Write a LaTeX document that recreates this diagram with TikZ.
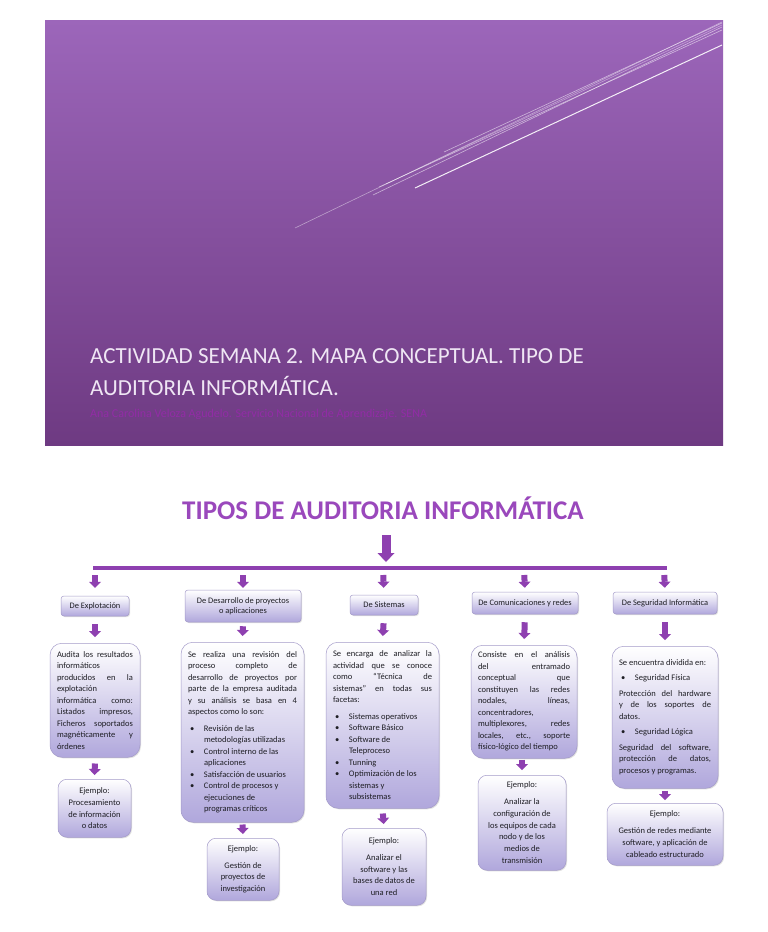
\documentclass[tikz,border=0pt]{standalone}
\usepackage{fontspec}
\setmainfont{Carlito}
\usepackage{tikz}
\usetikzlibrary{positioning,arrows.meta,shadows}
\definecolor{BannerTop}{HTML}{9C66BA}
\definecolor{BannerBottom}{HTML}{6E3A82}
\definecolor{BannerText}{HTML}{EFE6F4}
\definecolor{AuthorPurple}{HTML}{922CA6}
\definecolor{TitlePurple}{HTML}{9A48BC}
\definecolor{ArrowPurple}{HTML}{8E40B0}
\definecolor{BoxBorder}{HTML}{A39AC9}
\definecolor{BoxLavender}{HTML}{B0A7DC}
\definecolor{InkGray}{HTML}{1E1E24}
\hyphenpenalty=10000
\exhyphenpenalty=10000
\newcommand{\bulitem}[1]{\par\hangindent=16pt\hangafter=1\noindent
  \hbox to 16pt{\hskip2pt\textbullet\hfil}#1\par}
\tikzset{
  hdrbox/.style={draw=BoxBorder,top color=white,bottom color=BoxLavender,
    rounded corners=3pt,line width=0.5pt,
    drop shadow={shadow xshift=1pt,shadow yshift=-1pt,opacity=0.25},
    font=\fontsize{8.4}{10}\selectfont,text=InkGray,align=center,inner sep=2pt},
  descbox/.style={draw=BoxBorder,top color=white,bottom color=BoxLavender,
    rounded corners=12pt,line width=0.5pt,anchor=north,
    drop shadow={shadow xshift=1pt,shadow yshift=-1pt,opacity=0.25},
    font=\fontsize{8.5}{11.5}\selectfont,
    text=InkGray,align=justify,inner xsep=7pt,inner ysep=4pt},
  exbox/.style={draw=BoxBorder,top color=white,bottom color=BoxLavender,
    rounded corners=9pt,line width=0.5pt,anchor=north,
    drop shadow={shadow xshift=1pt,shadow yshift=-1pt,opacity=0.25},
    font=\fontsize{8.5}{11.8}\selectfont,text=InkGray,align=center,inner sep=3pt},
  flowarrow/.style={draw=ArrowPurple,line width=6pt,
    -{Triangle[width=12pt,length=6pt,line width=0pt]},shorten <=8pt,shorten >=6pt},
  bigarrow/.style={draw=ArrowPurple,line width=9pt,
    -{Triangle[width=17pt,length=9pt,line width=0pt]}},
  barline/.style={draw=ArrowPurple,line width=4pt},
  streak/.style={draw=white,line width=0.6pt,opacity=0.55},
}

\begin{document}
\begin{tikzpicture}[x=1pt,y=-1pt]
  \useasboundingbox (0,0) rectangle (768,932);
  \fill[white] (0,0) rectangle (768,932);

  % banner
  \fill[top color=BannerTop,bottom color=BannerBottom] (45,20) rectangle (723,445);
  \draw[streak,opacity=0.45] (295,228) -- (722,22);
  \draw[streak] (373,195) -- (722,27);
  \draw[streak] (379,187) -- (722,30);
  \draw[streak,opacity=0.4] (386,184) -- (722,25);
  \draw[streak] (444,152) -- (722,23);
  \draw[streak,line width=1pt,opacity=0.9] (415,188) -- (722,45);
  \node[anchor=base west,font=\fontsize{23}{30}\selectfont,text=BannerText,inner sep=0pt]
    (banner1) at (90,363) {ACTIVIDAD SEMANA 2. MAPA CONCEPTUAL. TIPO DE};
  \node[anchor=base west,font=\fontsize{23}{30}\selectfont,text=BannerText,inner sep=0pt]
    (banner2) at (90,395) {AUDITORIA INFORMÁTICA.};
  \node[anchor=base west,font=\fontsize{12}{14}\selectfont,text=AuthorPurple,inner sep=0pt]
    (author) at (90,417) {Ana Carolina Veloza Agudelo. Servicio Nacional de Aprendizaje. SENA};

  % map title and bar
  \node[anchor=base,font=\fontsize{27}{32}\selectfont\bfseries,text=TitlePurple,inner sep=0pt]
    (title) at (383,519) {TIPOS DE AUDITORIA INFORMÁTICA};
  \coordinate (b1) at (95,568);
  \coordinate (b2) at (243,568);
  \coordinate (barmid) at (386,566);
  \coordinate (b3) at (383,568);
  \coordinate (b4) at (524,568);
  \coordinate (b5) at (664,568);
  \draw[bigarrow,shorten <=16pt,shorten >=4pt] (title.south -| barmid) -- (barmid);
  \draw[barline,shorten <=-2pt,shorten >=-3pt] (b1) -- (b5);

  % types
  \node[hdrbox,minimum width=68pt,minimum height=20pt] (hdr1) at (95,606) {De Explotación};
  \node[hdrbox,minimum width=116pt,minimum height=32pt] (hdr2) at (243,606)
    {De Desarrollo de proyectos\\o aplicaciones};
  \node[hdrbox,minimum width=68pt,minimum height=20pt] (hdr3) at (384,605) {De Sistemas};
  \node[hdrbox,minimum width=106pt,minimum height=22pt] (hdr4) at (525,603) {De Comunicaciones y redes};
  \node[hdrbox,minimum width=104pt,minimum height=22pt] (hdr5) at (665,603) {De Seguridad Informática};

  % descriptions
  \node[descbox,text width=76pt,minimum height=114pt] (desc1) at (95,643)
    {Audita los resultados\linebreak informáticos\\ producidos en la\linebreak explotación\\
     informática como:\linebreak Listados impresos,\linebreak Ficheros soportados\linebreak
     magnéticamente y\linebreak órdenes};
  \node[descbox,text width=109pt,minimum height=180pt] (desc2) at (242.5,642)
    {Se realiza una revisión del\linebreak proceso completo de\linebreak
     desarrollo de proyectos por\linebreak parte de la empresa auditada\linebreak
     y su análisis se basa en 4\linebreak aspectos como lo son:\par\vspace{5pt}
     \bulitem{Revisión de las\\ metodologías utilizadas}
     \bulitem{Control interno de las\\ aplicaciones}
     \bulitem{Satisfacción de usuarios}
     \bulitem{Control de procesos y\\ ejecuciones de\\ programas críticos}};
  \node[descbox,text width=99pt,minimum height=166pt] (desc3) at (382.5,642)
    {Se encarga de analizar la\linebreak actividad que se conoce\linebreak
     como “Técnica de\linebreak sistemas” en todas sus\linebreak facetas:\par\vspace{5pt}
     \bulitem{Sistemas operativos}
     \bulitem{Software Básico}
     \bulitem{Software de\\ Teleproceso}
     \bulitem{Tunning}
     \bulitem{Optimización de los\\ sistemas y\\ subsistemas}};
  \node[descbox,text width=92pt,minimum height=113pt] (desc4) at (524,645)
    {Consiste en el análisis\linebreak del entramado\linebreak conceptual que\linebreak
     constituyen las redes\linebreak nodales, líneas,\linebreak concentradores,\\
     multiplexores, redes\linebreak locales, etc., soporte\linebreak físico-lógico del tiempo};
  \node[descbox,text width=92pt,minimum height=142pt] (desc5) at (665,646)
    {Se encuentra dividida en:\par\vspace{4pt}
     \bulitem{Seguridad Física}\vspace{4pt}
     Protección del hardware\linebreak y de los soportes de\linebreak datos.\par\vspace{4pt}
     \bulitem{Seguridad Lógica}\vspace{4pt}
     Seguridad del software,\linebreak protección de datos,\linebreak procesos y programas.};

  % examples
  \node[exbox,minimum width=73pt,minimum height=58pt] (ex1) at (94.5,779)
    {Ejemplo:\\ Procesamiento\\ de información\\ o datos};
  \node[exbox,minimum width=72pt,minimum height=62pt] (ex2) at (243,838)
    {Ejemplo:\\[5pt] Gestión de\\ proyectos de\\ investigación};
  \node[exbox,minimum width=84pt,minimum height=77pt] (ex3) at (384,828)
    {Ejemplo:\\[5pt] Analizar el\\ software y las\\ bases de datos de\\ una red};
  \node[exbox,minimum width=88pt,minimum height=95pt] (ex4) at (522,775)
    {Ejemplo:\\[5pt] Analizar la\\ configuración de\\ los equipos de cada\\ nodo y de los\\
     medios de\\ transmisión};
  \node[exbox,minimum width=116pt,minimum height=62pt] (ex5) at (665,803)
    {Ejemplo:\\[5pt] Gestión de redes mediante\\ software, y aplicación de\\ cableado estructurado};

  % arrows
  \draw[flowarrow,shorten <=7pt,shorten >=8pt] (b1) -- (hdr1.north);
  \draw[flowarrow,shorten <=7pt,shorten >=2pt] (b2) -- (hdr2.north);
  \draw[flowarrow,shorten <=7pt,shorten >=7pt] (b3) -- (hdr3.north);
  \draw[flowarrow,shorten <=7pt,shorten >=4pt] (b4) -- (hdr4.north);
  \draw[flowarrow,shorten <=7pt,shorten >=4pt] (b5) -- (hdr5.north);
  \draw[flowarrow] (hdr1.south) -- (desc1.north);
  \draw[flowarrow,shorten <=4pt] (hdr2.south) -- (desc2.north);
  \draw[flowarrow] (hdr3.south) -- (desc3.north);
  \draw[flowarrow] (hdr4.south) -- (desc4.north);
  \draw[flowarrow] (hdr5.south) -- (desc5.north);
  \draw[flowarrow,shorten <=6pt,shorten >=4pt] (desc1.south) -- (ex1.north);
  \draw[flowarrow,shorten <=2pt,shorten >=4pt] (desc2.south) -- (ex2.north);
  \draw[flowarrow,shorten <=5pt,shorten >=4pt] (desc3.south) -- (ex3.north);
  \draw[flowarrow,shorten <=1pt,shorten >=5pt] (desc4.south -| ex4.north) -- (ex4.north);
  \draw[flowarrow,shorten <=2pt,shorten >=3pt] (desc5.south) -- (ex5.north);
\end{tikzpicture}
\end{document}
